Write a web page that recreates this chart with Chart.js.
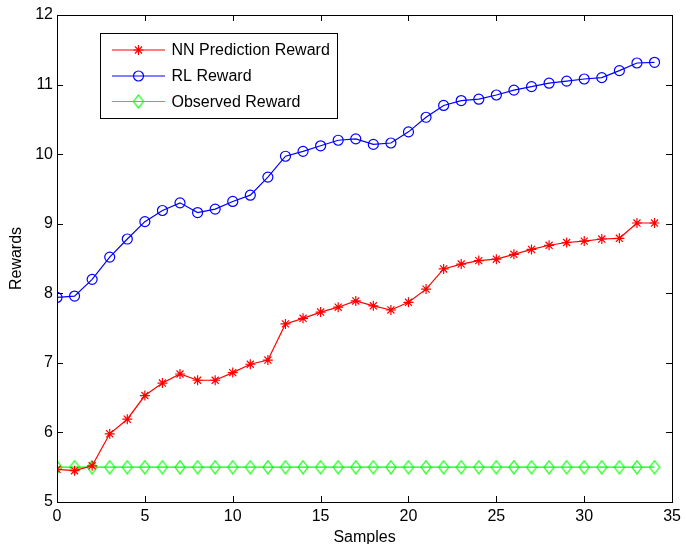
<!DOCTYPE html>
<html>
<head>
<meta charset="utf-8">
<script src="https://cdn.jsdelivr.net/npm/chart.js@4/dist/chart.umd.min.js"></script>
<style>
  html, body { margin: 0; padding: 0; background: #fff; }
  #wrap { width: 686px; height: 544px; }
</style>
</head>
<body>
<div id="wrap"><canvas id="rewardChart" width="686" height="544"></canvas></div>
<script>
// === Data ===
const samples = [0, 1, 2, 3, 4, 5, 6, 7, 8, 9, 10, 11, 12, 13, 14, 15, 16, 17,
  18, 19, 20, 21, 22, 23, 24, 25, 26, 27, 28, 29, 30, 31, 32, 33, 34];

const nnReward = [5.47, 5.45, 5.52, 5.98, 6.19, 6.53, 6.71, 6.84, 6.75, 6.75,
  6.86, 6.98, 7.04, 7.56, 7.64, 7.73, 7.80, 7.89, 7.82, 7.76, 7.87, 8.06,
  8.35, 8.42, 8.47, 8.49, 8.56, 8.63, 8.69, 8.73, 8.75, 8.78, 8.79, 9.01, 9.01];

const rlReward = [7.94, 7.96, 8.20, 8.52, 8.78, 9.03, 9.19, 9.30, 9.16, 9.21,
  9.32, 9.41, 9.67, 9.97, 10.04, 10.12, 10.20, 10.22, 10.14, 10.16, 10.32, 10.53,
  10.70, 10.77, 10.79, 10.85, 10.92, 10.97, 11.02, 11.05, 11.08, 11.10, 11.20, 11.31, 11.32];

const observedReward = [5.5, 5.5, 5.5, 5.5, 5.5, 5.5, 5.5, 5.5, 5.5, 5.5,
  5.5, 5.5, 5.5, 5.5, 5.5, 5.5, 5.5, 5.5, 5.5, 5.5, 5.5, 5.5,
  5.5, 5.5, 5.5, 5.5, 5.5, 5.5, 5.5, 5.5, 5.5, 5.5, 5.5, 5.5, 5.5];

const seriesNames = ['NN Prediction Reward', 'RL Reward', 'Observed Reward'];

const FONT = 'Liberation Sans, Arial, Helvetica, sans-serif';

// MATLAB-ish diamond marker (taller than wide)
function makeDiamond() {
  const c = document.createElement('canvas');
  c.width = 12; c.height = 15;
  const g = c.getContext('2d');
  g.strokeStyle = '#00ff00';
  g.lineWidth = 1.2;
  g.beginPath();
  g.moveTo(6, 1); g.lineTo(11, 7.5); g.lineTo(6, 14); g.lineTo(1, 7.5);
  g.closePath();
  g.stroke();
  return c;
}
const diamond = makeDiamond();

const toPoints = (vals) => samples.map((s, i) => ({ x: s, y: vals[i] }));

// === Box + inward ticks + legend ===
const matlabFrame = {
  id: 'matlabFrame',
  afterDraw(chart) {
    const { ctx, chartArea: a } = chart;
    const xs = chart.scales.x, ys = chart.scales.y;
    ctx.save();
    ctx.strokeStyle = '#000';
    ctx.lineWidth = 1;
    ctx.strokeRect(Math.round(a.left) + 0.5, Math.round(a.top) + 0.5,
      Math.round(a.right - a.left), Math.round(a.bottom - a.top));
    ctx.beginPath();
    const tl = 6;
    xs.ticks.forEach(t => {
      const px = Math.round(xs.getPixelForValue(t.value)) + 0.5;
      ctx.moveTo(px, a.bottom); ctx.lineTo(px, a.bottom - tl);
      ctx.moveTo(px, a.top); ctx.lineTo(px, a.top + tl);
    });
    ys.ticks.forEach(t => {
      const py = Math.round(ys.getPixelForValue(t.value)) + 0.5;
      ctx.moveTo(a.left, py); ctx.lineTo(a.left + tl, py);
      ctx.moveTo(a.right, py); ctx.lineTo(a.right - tl, py);
    });
    ctx.stroke();

    // legend
    const bx = 100.5, by = 33.5, bw = 237, bh = 85;
    ctx.fillStyle = '#fff';
    ctx.fillRect(bx, by, bw, bh);
    ctx.strokeRect(bx, by, bw, bh);
    const rows = [50, 76, 101.5];
    ctx.font = '16px ' + FONT;
    ctx.textBaseline = 'middle';
    chart.data.datasets.forEach((ds, i) => {
      const y = rows[i];
      ctx.strokeStyle = ds.borderColor;
      ctx.lineWidth = 1.2;
      ctx.beginPath();
      ctx.moveTo(112, y); ctx.lineTo(165, y);
      ctx.stroke();
      ctx.fillStyle = 'rgba(0,0,0,0)';
      Chart.helpers.drawPoint(ctx, {
        pointStyle: ds.pointStyle,
        radius: ds.pointRadius,
        borderWidth: 1.2
      }, 138.5, y);
      ctx.fillStyle = '#000';
      ctx.fillText(ds.label, 171.5, y + 1);
    });
    ctx.restore();
  }
};

const chartCanvas = document.getElementById('rewardChart');

new Chart(chartCanvas, {
  type: 'line',
  data: {
    datasets: [
      {
        label: seriesNames[0],
        data: toPoints(nnReward),
        borderColor: '#ff0000',
        backgroundColor: '#ff0000',
        borderWidth: 1.2,
        pointStyle: 'star',
        pointRadius: 5,
        pointBorderWidth: 1.2,
        pointBorderColor: '#ff0000',
        tension: 0
      },
      {
        label: seriesNames[1],
        data: toPoints(rlReward),
        borderColor: '#0000ff',
        backgroundColor: 'rgba(0,0,0,0)',
        borderWidth: 1.2,
        pointStyle: 'circle',
        pointRadius: 5,
        pointBorderWidth: 1.2,
        pointBorderColor: '#0000ff',
        tension: 0
      },
      {
        label: seriesNames[2],
        data: toPoints(observedReward),
        borderColor: '#00ff00',
        backgroundColor: 'rgba(0,0,0,0)',
        borderWidth: 1.3,
        pointStyle: diamond,
        pointRadius: 6,
        pointBorderWidth: 1.2,
        pointBorderColor: '#00ff00',
        tension: 0
      }
    ]
  },
  options: {
    responsive: false,
    animation: false,
    events: [],
    layout: { padding: { top: 15, right: 11, left: 0, bottom: 0 } },
    plugins: {
      legend: { display: false },
      tooltip: { enabled: false }
    },
    scales: {
      x: {
        type: 'linear',
        min: 0,
        max: 35,
        grid: { display: false, drawTicks: false },
        border: { display: false },
        ticks: {
          stepSize: 5,
          padding: 5,
          color: '#000',
          maxRotation: 0,
          font: { family: FONT, size: 16 }
        },
        title: {
          display: true,
          text: 'Samples',
          color: '#000',
          padding: 0,
          font: { family: FONT, size: 16, lineHeight: 0.8 }
        },
        afterFit(scale) { scale.height = 42; }
      },
      y: {
        min: 5,
        max: 12,
        grid: { display: false, drawTicks: false },
        border: { display: false },
        ticks: {
          stepSize: 1,
          padding: 4,
          color: '#000',
          font: { family: FONT, size: 16 }
        },
        title: {
          display: true,
          text: 'Rewards',
          color: '#000',
          padding: { top: 9, bottom: 0 },
          font: { family: FONT, size: 16, lineHeight: 1 }
        },
        afterFit(scale) { scale.width = 57; }
      }
    }
  },
  plugins: [matlabFrame]
});
</script>
</body>
</html>
